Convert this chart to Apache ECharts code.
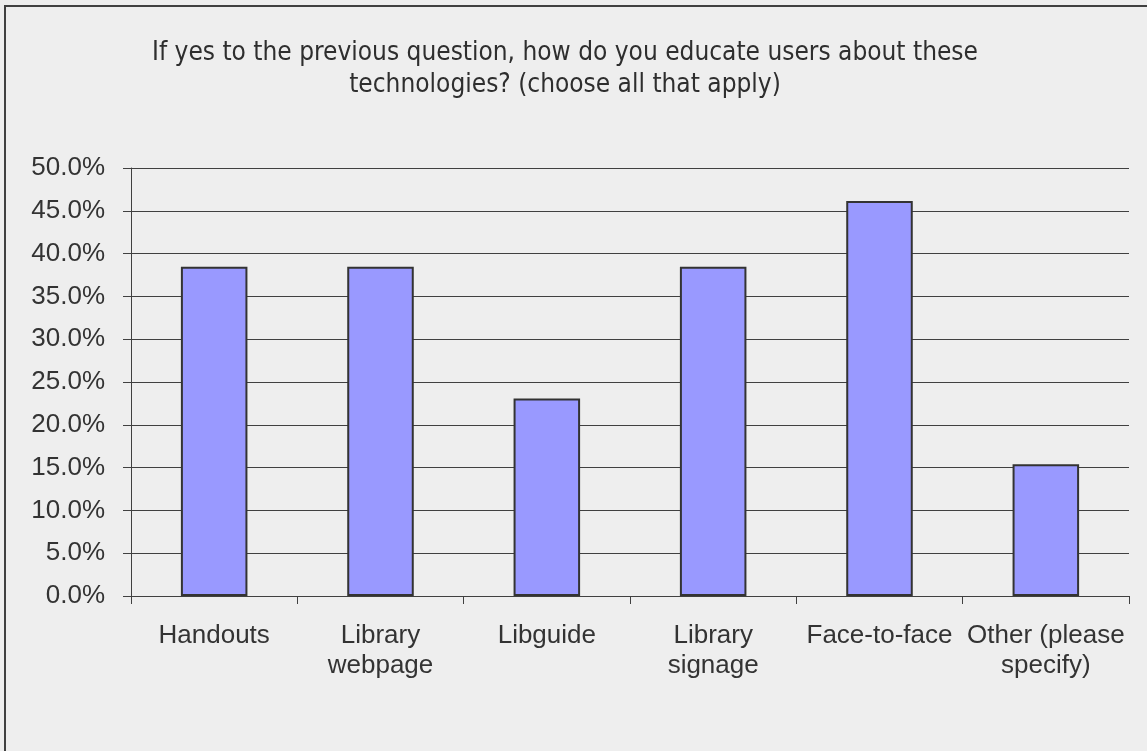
<!DOCTYPE html>
<html>
<head>
<meta charset="utf-8">
<script src="https://cdn.jsdelivr.net/npm/echarts@6/dist/echarts.min.js"></script>
<style>
html,body{margin:0;padding:0;background:#eeeeee;}
#c{width:1147px;height:751px;}
</style>
</head>
<body>
<div id="c"></div>
<script>
const titleText = "If yes to the previous question, how do you educate users about these\ntechnologies? (choose all that apply)";
const categories = ["Handouts", "Library\nwebpage", "Libguide", "Library\nsignage", "Face-to-face", "Other (please\nspecify)"];
const values = [38.46, 38.46, 23.08, 38.46, 46.15, 15.38];
const yTicks = { min: 0, max: 50, interval: 5 };

const chart = echarts.init(document.getElementById('c'));
chart.setOption({
  backgroundColor: '#eeeeee',
  animation: false,
  graphic: [{
    type: 'rect', z: 100, silent: true,
    shape: { x: 5, y: 6, width: 1300, height: 900 },
    style: { fill: 'none', stroke: '#404040', lineWidth: 2 }
  }],
  title: {
    text: titleText,
    left: 560, top: 32, textAlign: 'center',
    textStyle: { fontFamily: 'Liberation Sans Narrow, DejaVu Sans Condensed, Arial', fontSize: 26, fontWeight: 'normal', color: '#2e2e2e', lineHeight: 32 }
  },
  grid: { left: 131, right: 18, top: 168, bottom: 155, containLabel: false },
  xAxis: {
    type: 'category', data: categories,
    axisLine: { lineStyle: { color: '#404040', width: 1 } },
    axisTick: { show: true, length: 8, lineStyle: { color: '#404040' } },
    axisLabel: { interval: 0, margin: 25, fontFamily: 'Arial, Liberation Sans', fontSize: 26, color: '#333333', lineHeight: 30 }
  },
  yAxis: {
    type: 'value', min: yTicks.min, max: yTicks.max, interval: yTicks.interval,
    axisLine: { show: true, lineStyle: { color: '#404040', width: 1 } },
    axisTick: { show: true, length: 8, lineStyle: { color: '#404040' } },
    splitLine: { show: true, lineStyle: { color: '#404040', width: 1 } },
    axisLabel: { margin: 26, fontFamily: 'Arial, Liberation Sans', fontSize: 26, color: '#333333', formatter: v => v.toFixed(1) + '%' }
  },
  series: [{
    type: 'bar', data: values, barWidth: '40%',
    itemStyle: { color: '#9999ff', borderColor: '#333333', borderWidth: 2 }
  }]
});
</script>
</body>
</html>
